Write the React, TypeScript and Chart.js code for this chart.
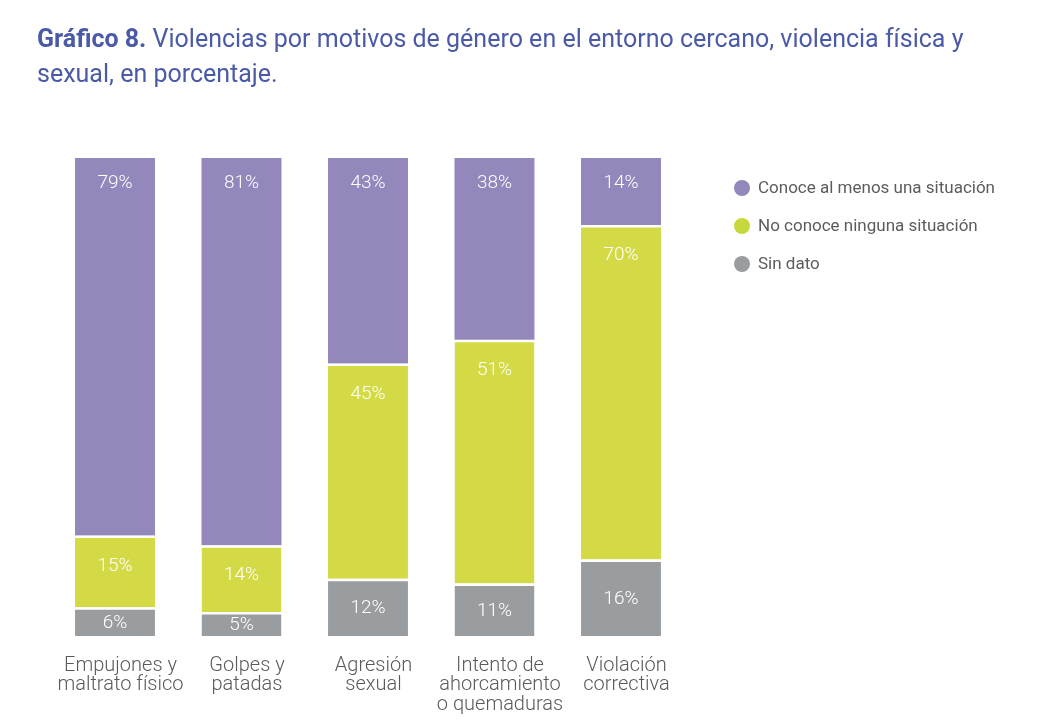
import React, { useEffect, useRef } from "react";
import { Chart, registerables } from "chart.js";

Chart.register(...registerables);

const categories: string[][] = [
  ["Empujones y", "maltrato físico"],
  ["Golpes y", "patadas"],
  ["Agresión", "sexual"],
  ["Intento de", "ahorcamiento", "o quemaduras"],
  ["Violación", "correctiva"],
];
const seriesNames = ["Conoce al menos una situación", "No conoce ninguna situación", "Sin dato"];
const conoce = [79, 81, 43, 38, 14];
const noConoce = [15, 14, 45, 51, 70];
const sinDato = [6, 5, 12, 11, 16];
const colors = ["#9387bb", "#d4da46", "#9a9d9f"];
const legendColors = ["#9387bb", "#c6d83c", "#9a9d9f"];
const titleBold = "Gráfico 8.";
const titleRest1 = " Violencias por motivos de género en el entorno cercano, violencia física y";
const titleLine2 = "sexual, en porcentaje.";

const FONT = "Roboto, 'Noto Sans', sans-serif";
const BORDER = 2.5;

const overlayPlugin = {
  id: "overlay",
  afterDatasetsDraw(chart: any) {
    const ctx = chart.ctx as CanvasRenderingContext2D;
    ctx.save();
    // data labels
    chart.data.datasets.forEach((ds: any, di: number) => {
      const meta = chart.getDatasetMeta(di);
      const series = ds._series as number;
      meta.data.forEach((bar: any, i: number) => {
        const v = ds.data[i];
        const top = Math.min(bar.y, bar.base);
        const bottom = Math.max(bar.y, bar.base);
        let y: number;
        if (series === 2) {
          y = (top + BORDER + bottom) / 2;
        } else if (series === 1) {
          y = top + BORDER + 28;
        } else {
          y = top + 25;
        }
        ctx.fillStyle = "#ffffff";
        ctx.font = `300 19px ${FONT}`;
        ctx.textAlign = "center";
        ctx.textBaseline = "middle";
        ctx.fillText(`${v}%`, bar.x, y);
      });
    });
    // title
    ctx.textAlign = "left";
    ctx.textBaseline = "alphabetic";
    ctx.fillStyle = "#4b5aa7";
    ctx.font = `bold 25px ${FONT}`;
    ctx.fillText(titleBold, 37, 47);
    const w = ctx.measureText(titleBold).width;
    ctx.font = `400 25px ${FONT}`;
    ctx.fillText(titleRest1, 37 + w, 47);
    ctx.fillText(titleLine2, 37, 82);
    // legend
    seriesNames.forEach((name, i) => {
      const cy = 188 + i * 38;
      ctx.beginPath();
      ctx.arc(742, cy, 8, 0, Math.PI * 2);
      ctx.fillStyle = legendColors[i];
      ctx.fill();
      ctx.fillStyle = "#5c5c5c";
      ctx.font = `400 17px ${FONT}`;
      ctx.textBaseline = "middle";
      ctx.fillText(name, 758, cy + 1);
    });
    ctx.restore();
  },
};

export default function App() {
  const ref = useRef<HTMLCanvasElement | null>(null);
  useEffect(() => {
    if (!ref.current) return;
    const data = [conoce, noConoce, sinDato];
    const order = [2, 1, 0];
    const chart = new Chart(ref.current, {
      type: "bar",
      data: {
        labels: categories,
        datasets: order.map((i) => ({
          label: seriesNames[i],
          data: data[i],
          _series: i,
          backgroundColor: colors[i],
          borderColor: "#ffffff",
          borderWidth: i > 0 ? { top: BORDER } : 0,
          borderSkipped: false,
          barPercentage: 0.8,
          categoryPercentage: 0.79,
        })) as any,
      },
      options: {
        responsive: false,
        animation: false,
        layout: { padding: { left: 51.75, right: 370.75, top: 158, bottom: 0 } },
        plugins: { legend: { display: false }, tooltip: { enabled: false }, title: { display: false } },
        scales: {
          x: {
            stacked: true,
            grid: { display: false },
            border: { display: false },
            ticks: {
              color: "#5a5a5a",
              padding: 12,
              labelOffset: 5.5,
              maxRotation: 0,
              autoSkip: false,
              font: { family: FONT, size: 20, weight: 300 as any, lineHeight: 0.98 },
            },
            afterFit(scale: any) {
              scale.height = 85;
            },
          },
          y: {
            stacked: true,
            display: false,
            min: 0,
            max: 100,
          },
        },
      },
      plugins: [overlayPlugin],
    });
    return () => chart.destroy();
  }, []);
  return (
    <div style={{ position: "fixed", left: 0, top: 0, width: 1055, height: 721, background: "#fff" }}>
      <canvas ref={ref} width={1055} height={721} style={{ width: 1055, height: 721 }} />
    </div>
  );
}
